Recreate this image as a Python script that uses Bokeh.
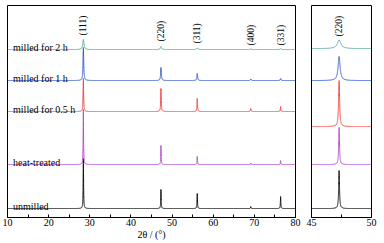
import numpy as np
from bokeh.plotting import figure
from bokeh.layouts import row
from bokeh.models import Range1d, FixedTicker
from bokeh.core.properties import value
from bokeh.embed import file_html
from bokeh.resources import INLINE

# ---- data ----
samples = ["unmilled", "heat-treated", "milled for 0.5 h", "milled for 1 h", "milled for 2 h"]
colors = ["#111111", "#b452c8", "#ee4646", "#3d5ec4", "#5aa89b"]
peak_labels = ["(111)", "(220)", "(311)", "(400)", "(331)"]
peak_pos = [28.44, 47.30, 56.12, 69.13, 76.38]
offsets = [10, 54, 107, 138, 169]
heights_unmilled = [50, 19, 15, 2, 12]
heights_heat = [55, 19, 8, 1.5, 4]
heights_05h = [33, 23, 13, 3, 5]
heights_1h = [33, 13, 7, 1.5, 2]
heights_2h = [10, 3, 1.5, 0.5, 0.8]
widths = [0.12, 0.12, 0.15, 0.2, 0.35]

zoom_pos = 47.30
zoom_offsets = [10, 54, 92, 138, 170]
zoom_heights = [38, 37, 46, 24, 8.5]
zoom_widths = [0.08, 0.08, 0.1, 0.2, 0.35]

x_ticks = [10, 20, 30, 40, 50, 60, 70, 80]
zoom_ticks = [45, 50]

all_heights = [heights_unmilled, heights_heat, heights_05h, heights_1h, heights_2h]
FONT = value("Liberation Serif")


def profile(x, positions, hs, w):
    y = np.zeros_like(x)
    for p0, h in zip(positions, hs):
        y += h / (1.0 + ((x - p0) / (w / 2.0)) ** 2)
    return y


def style(p):
    p.xgrid.visible = False
    p.ygrid.visible = False
    p.yaxis.visible = False
    p.outline_line_color = "black"
    p.outline_line_width = 1
    p.outline_line_alpha = 1
    ax = p.xaxis[0]
    ax.axis_line_color = "black"
    ax.major_tick_in = 3
    ax.major_tick_out = 0
    ax.minor_tick_in = 3
    ax.minor_tick_out = 0
    ax.major_tick_line_color = "black"
    ax.minor_tick_line_color = "black"
    ax.major_label_text_font = "Liberation Serif"
    ax.major_label_text_font_size = "10px"
    ax.major_label_text_color = "black"
    ax.major_label_standoff = 1
    ax.axis_label_text_font = "Liberation Serif"
    ax.axis_label_text_font_size = "10px"
    ax.axis_label_text_font_style = "normal"
    ax.axis_label_text_color = "black"
    ax.axis_label_standoff = 0


FH = 212

# ---- main panel ----
p = figure(output_backend="svg", toolbar_location=None, frame_width=288, frame_height=FH,
           min_border_left=7, min_border_right=8, min_border_top=5, min_border_bottom=0,
           x_range=Range1d(10, 80), y_range=Range1d(1, 213))
style(p)
p.xaxis.ticker = FixedTicker(ticks=x_ticks, minor_ticks=[15, 25, 35, 45, 55, 65, 75])
p.xaxis.axis_label = "2θ / (°)"

x = np.sort(np.concatenate([np.arange(10, 80.0001, 0.01), peak_pos]))
for name, col, off, hs, w in zip(samples, colors, offsets, all_heights, widths):
    p.line(x, off + profile(x, peak_pos, hs, w), line_color=col, line_width=1)

p.text(x=[11.35] * len(samples), y=[o + 2.5 for o in offsets], text=samples,
       text_font=FONT, text_font_size="10px", text_color="black",
       text_align="left", text_baseline="alphabetic")

peak_label_y = [183, 177, 175, 173, 173]
p.text(x=peak_pos, y=peak_label_y, text=peak_labels, angle=np.pi / 2,
       text_font=FONT, text_font_size="9.5px", text_color="black",
       text_align="left", text_baseline="middle")

# ---- zoom panel ----
q = figure(output_backend="svg", toolbar_location=None, frame_width=60, frame_height=FH,
           min_border_left=8, min_border_right=13, min_border_top=5, min_border_bottom=0,
           x_range=Range1d(45, 50), y_range=Range1d(1, 213))
style(q)
q.xaxis.ticker = FixedTicker(ticks=zoom_ticks, minor_ticks=[47.5])
q.xaxis.axis_label = " "

xz = np.sort(np.concatenate([np.arange(45, 50.0001, 0.002), [zoom_pos]]))
for col, off, h, w in zip(colors, zoom_offsets, zoom_heights, zoom_widths):
    q.line(xz, off + profile(xz, [zoom_pos], [h], w), line_color=col, line_width=1)

q.text(x=[zoom_pos], y=[182], text=["(220)"], angle=np.pi / 2,
       text_font=FONT, text_font_size="9.5px", text_color="black",
       text_align="left", text_baseline="middle")

layout = row(p, q)
open("out.html", "w").write(file_html(layout, INLINE))
